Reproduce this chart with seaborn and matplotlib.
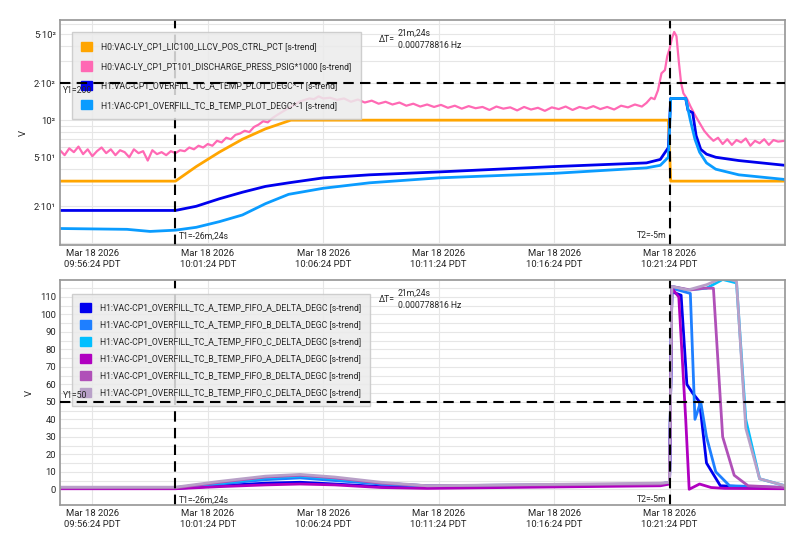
import matplotlib
matplotlib.use("Agg")
import matplotlib.pyplot as plt
import seaborn as sns
from matplotlib.ticker import FixedLocator, NullFormatter
from matplotlib.patches import Patch

# time axis: minutes since 09:56:24 PDT
TICK_MIN = [0, 5, 10, 15, 20, 25]
TICK_LABELS = ["Mar 18 2026\n09:56:24 PDT", "Mar 18 2026\n10:01:24 PDT", "Mar 18 2026\n10:06:24 PDT",
               "Mar 18 2026\n10:11:24 PDT", "Mar 18 2026\n10:16:24 PDT", "Mar 18 2026\n10:21:24 PDT"]
T1, T2 = 3.6, 25.0

top_names = ["H0:VAC-LY_CP1_LIC100_LLCV_POS_CTRL_PCT [s-trend]",
             "H0:VAC-LY_CP1_PT101_DISCHARGE_PRESS_PSIG*1000 [s-trend]",
             "H1:VAC-CP1_OVERFILL_TC_A_TEMP_PLOT_DEGC*-1 [s-trend]",
             "H1:VAC-CP1_OVERFILL_TC_B_TEMP_PLOT_DEGC*-1 [s-trend]"]
top_colors = ["#ffa500", "#ff69b4", "#0000ee", "#0a9cff"]

orange_t = [-1.4, 3.6, 4.5, 5.5, 6.5, 7.5, 8.6, 24.95, 25.05, 30]
orange_v = [32, 32, 42, 55, 70, 85, 100, 100, 32, 32]

pink_t = [-1.4, -1.2, -1.0, -0.8, -0.6, -0.4, -0.2, 0.0, 0.2, 0.4, 0.6, 0.8, 1.0, 1.2, 1.4, 1.6, 1.8,
          2.0, 2.2, 2.4, 2.6, 2.8, 3.0, 3.2, 3.4, 3.6, 3.8, 4.0, 4.2, 4.4, 4.6, 4.8, 5.0, 5.2, 5.4, 5.6,
          5.8, 6.0, 6.2, 6.4, 6.6, 6.8, 7.0, 7.2, 7.4, 7.6, 7.8, 8.0, 8.2, 8.4, 8.6, 8.8, 9.0, 9.2, 9.4,
          9.6, 9.8, 10.0, 10.3, 10.6, 10.9, 11.2, 11.5, 11.8, 12.1, 12.4, 12.7, 13.0, 13.3, 13.6, 13.9,
          14.2, 14.5, 14.8, 15.1, 15.4, 15.7, 16.0, 16.3, 16.6, 16.9, 17.2, 17.5, 17.8, 18.1, 18.4, 18.7,
          19.0, 19.3, 19.6, 19.9, 20.2, 20.5, 20.8, 21.1, 21.4, 21.7, 22.0, 22.3, 22.6, 22.9, 23.2, 23.5,
          23.8, 24.0, 24.2, 24.35, 24.5, 24.65, 24.8, 24.9, 25.0, 25.1, 25.2, 25.3, 25.4, 25.5, 25.6,
          25.75, 25.9, 26.1, 26.3, 26.5, 26.7, 26.9, 27.1, 27.3, 27.5, 27.7, 27.9, 28.1, 28.3, 28.5,
          28.7, 28.9, 29.1, 29.3, 29.5, 29.7, 30.0]
pink_v = [57, 52, 59, 55, 61, 53, 58, 51, 56, 60, 54, 58, 52, 57, 55, 50, 58, 54, 56, 47, 57, 53, 55, 52,
          56, 54, 57, 56, 60, 58, 62, 60, 64, 62, 68, 66, 72, 70, 76, 78, 82, 80, 88, 92, 98, 96, 104,
          110, 116, 122, 128, 135, 142, 146, 150, 148, 156, 150, 152, 146, 150, 141, 147, 139, 144, 136,
          141, 134, 139, 131, 136, 129, 134, 128, 133, 126, 131, 124, 130, 125, 128, 121, 129, 124, 127,
          120, 128, 122, 126, 119, 127, 123, 129, 121, 128, 124, 130, 123, 128, 122, 131, 127, 134, 129,
          138, 152, 148, 175, 240, 255, 330, 380, 460, 520, 480, 300, 200, 165, 150, 130, 110, 95, 82,
          74, 68, 72, 64, 70, 63, 69, 66, 71, 62, 68, 65, 70, 63, 69, 67, 68]

blue_t = [-1.4, 3.6, 4.5, 5.5, 6.5, 7.5, 8.5, 10, 12, 15, 20, 24, 24.6, 24.95, 25.05, 25.7, 25.8, 26.0,
          26.15, 26.35, 26.6, 27.0, 28.0, 30.0]
blue_v = [18.5, 18.5, 20, 23, 26, 29, 31, 34, 36, 38, 42, 45, 48, 60, 150, 150, 120, 115, 75, 58, 53,
          50, 47, 43]
lblue_t = [-1.4, 1.5, 2.5, 3.6, 4.5, 5.5, 6.5, 7.5, 8.5, 10, 12, 15, 20, 24, 24.6, 24.95, 25.05, 25.7,
           25.9, 26.1, 26.3, 26.6, 27.0, 28.0, 30.0]
lblue_v = [13.2, 13.0, 12.5, 12.8, 13.5, 15, 17, 21, 25, 28, 31, 34, 37, 41, 43, 50, 150, 150, 100, 70,
           55, 45, 40, 36, 33]

bot_names = ["H1:VAC-CP1_OVERFILL_TC_A_TEMP_FIFO_A_DELTA_DEGC [s-trend]",
             "H1:VAC-CP1_OVERFILL_TC_A_TEMP_FIFO_B_DELTA_DEGC [s-trend]",
             "H1:VAC-CP1_OVERFILL_TC_A_TEMP_FIFO_C_DELTA_DEGC [s-trend]",
             "H1:VAC-CP1_OVERFILL_TC_B_TEMP_FIFO_A_DELTA_DEGC [s-trend]",
             "H1:VAC-CP1_OVERFILL_TC_B_TEMP_FIFO_B_DELTA_DEGC [s-trend]",
             "H1:VAC-CP1_OVERFILL_TC_B_TEMP_FIFO_C_DELTA_DEGC [s-trend]"]
bot_colors = ["#0000ee", "#1e7fff", "#00bfff", "#b000c0", "#b050b8", "#b8a0c8"]

base_t = [-1.4, 3.6, 5.5, 7.5, 9.0, 10.5, 12.5, 14.5, 24.6]
b_base = [[0.5, 0.5, 2.0, 3.5, 4.0, 3.0, 1.5, 1.0, 2.5],
          [0.8, 0.8, 3.0, 5.5, 6.5, 5.0, 3.0, 1.5, 3.0],
          [1.0, 1.0, 3.5, 6.5, 7.5, 6.0, 3.5, 2.0, 3.0],
          [0.3, 0.3, 1.5, 2.5, 3.0, 2.5, 1.0, 0.5, 2.0],
          [0.8, 0.8, 4.0, 7.0, 8.0, 6.5, 3.5, 2.0, 3.0],
          [1.2, 1.2, 4.5, 7.5, 8.5, 7.0, 4.0, 2.0, 3.5]]
b_t = [[25.0, 25.1, 25.5, 25.75, 26.0, 26.3, 26.6, 27.2, 30.0],
       [25.0, 25.1, 25.9, 26.1, 26.35, 26.6, 27.0, 27.6, 30.0],
       [25.0, 25.1, 25.8, 26.6, 27.3, 27.9, 28.3, 28.9, 30.0],
       [25.0, 25.1, 25.4, 25.7, 25.85, 26.3, 26.8, 27.4, 30.0],
       [25.0, 25.1, 25.9, 26.5, 26.9, 27.3, 27.8, 28.4, 30.0],
       [25.0, 25.1, 25.8, 26.6, 27.3, 27.9, 28.3, 28.9, 30.0]]
b_v = [[4, 113, 111, 60, 55, 50, 15, 2, 0.5],
       [4, 115, 112, 40, 50, 30, 10, 2, 1],
       [4, 116, 114, 115, 120, 118, 40, 6, 2],
       [3, 115, 110, 40, 0, 3, 1, 0.5, 0.3],
       [4, 116, 114, 115, 115, 30, 8, 2, 1],
       [4, 116, 114, 117, 121, 119, 35, 6, 2]]

sns.set_theme(style="white")
plt.rcParams["font.family"] = ["Roboto", "DejaVu Sans"]
fig = plt.figure(figsize=(8.04, 5.51), dpi=100)
ax1 = fig.add_axes([60 / 804, 1 - 245 / 551, 725 / 804, 225 / 551])
ax2 = fig.add_axes([60 / 804, 1 - 505 / 551, 725 / 804, 225 / 551])
FS = 6.2


def style(ax):
    ax.set_xlim(-1.4, 30)
    ax.set_xticks(TICK_MIN)
    ax.set_xticklabels(TICK_LABELS, fontsize=FS + 0.6)
    ax.grid(True, which="both", color="#e6e6e6", lw=0.8)
    ax.set_axisbelow(True)
    for s in ax.spines.values():
        s.set_color("#999999")
    ax.tick_params(axis="both", labelsize=FS + 0.6, length=0, pad=3)
    ax.set_ylabel("V", fontsize=FS + 0.6)
    ax.axvline(T1, color="black", ls=(0, (5, 3)), lw=1.5)
    ax.axvline(T2, color="black", ls=(0, (5, 3)), lw=1.5)


def delta_text(ax, y_frac):
    ax.text(0.44, y_frac, "ΔT=", fontsize=FS, va="center", transform=ax.transAxes, zorder=10)
    ax.text(0.466, y_frac, "21m,24s\n0.000778816 Hz", fontsize=FS, va="center", linespacing=1.5,
            transform=ax.transAxes, zorder=10)


series = [(orange_t, orange_v, 2), (pink_t, pink_v, 1.6), (blue_t, blue_v, 2), (lblue_t, lblue_v, 2)]
for (t, v, lw), c in zip(series, top_colors):
    sns.lineplot(x=t, y=v, ax=ax1, color=c, lw=lw, sort=False, estimator=None)
ax1.set_yscale("log")
ax1.set_ylim(9.7, 650)
ax1.yaxis.set_major_locator(FixedLocator([20, 50, 100, 200, 500]))
ax1.set_yticklabels(["2·10¹", "5·10¹", "10²", "2·10²", "5·10²"])
ax1.yaxis.set_minor_locator(FixedLocator([10, 30, 40, 60, 70, 80, 90, 300, 400, 600]))
ax1.yaxis.set_minor_formatter(NullFormatter())
style(ax1)
ax1.axhline(200, color="black", ls=(0, (5, 3)), lw=1.5, zorder=8)
ax1.text(-1.25, 190, "Y1=200", fontsize=FS, va="top", zorder=10)
ax1.text(T1 + 0.15, 11.0, "T1=-26m,24s", fontsize=FS)
ax1.text(T2 - 0.15, 11.0, "T2=-5m", fontsize=FS, ha="right")
delta_text(ax1, 0.915)
h1 = [Patch(color=c) for c in top_colors]
ax1.legend(h1, top_names, loc="upper left", bbox_to_anchor=(0.01, 0.965), fontsize=FS, frameon=True,
           facecolor="#ebebeb", edgecolor="#c8c8c8", framealpha=0.85, fancybox=False,
           handlelength=1.3, handleheight=1.3, borderpad=1.1, labelspacing=1.15, handletextpad=1.0)

for i, c in enumerate(bot_colors):
    t = base_t + b_t[i]
    v = b_base[i] + b_v[i]
    sns.lineplot(x=t, y=v, ax=ax2, color=c, lw=2, sort=False, estimator=None)
ax2.set_ylim(-9, 119.7)
ax2.set_yticks(range(0, 111, 10))
ax2.yaxis.set_minor_locator(FixedLocator(list(range(5, 120, 10))))
style(ax2)
ax2.axhline(50, color="black", ls=(0, (5, 3)), lw=1.5, zorder=8)
ax2.text(-1.25, 51, "Y1=50", fontsize=FS, va="bottom", zorder=10)
ax2.text(T1 + 0.15, -7.5, "T1=-26m,24s", fontsize=FS)
ax2.text(T2 - 0.15, -7.5, "T2=-5m", fontsize=FS, ha="right")
delta_text(ax2, 0.915)
h2 = [Patch(color=c) for c in bot_colors]
ax2.legend(h2, bot_names, loc="upper left", bbox_to_anchor=(0.01, 0.955), fontsize=FS, frameon=True,
           facecolor="#ebebeb", edgecolor="#c8c8c8", framealpha=0.85, fancybox=False,
           handlelength=1.3, handleheight=1.3, borderpad=1.0, labelspacing=0.85, handletextpad=1.0)

fig.savefig("out.png", dpi=100)
